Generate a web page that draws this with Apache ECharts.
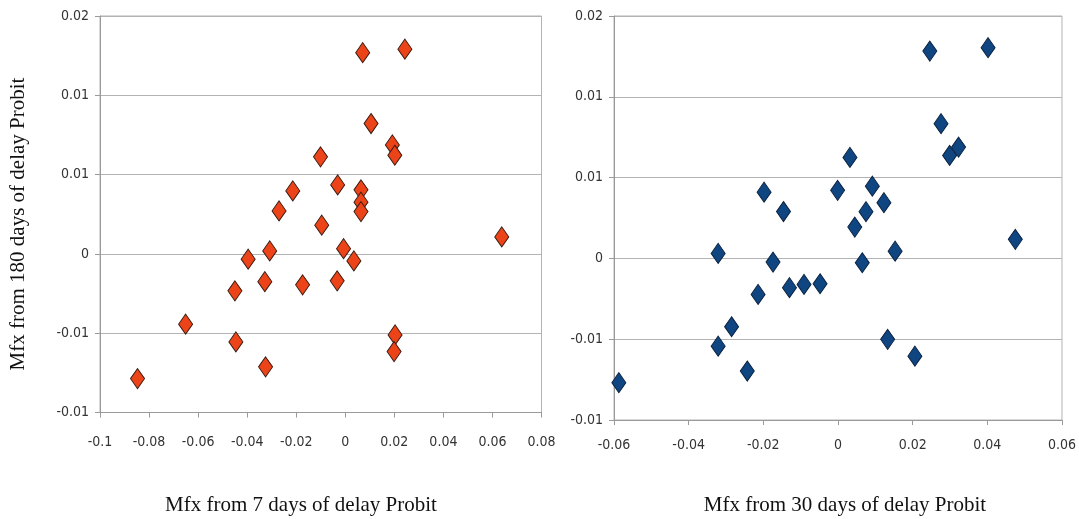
<!DOCTYPE html>
<html>
<head>
<meta charset="utf-8">
<script src="https://cdn.jsdelivr.net/npm/echarts@6/dist/echarts.min.js"></script>
<style>html,body{margin:0;padding:0;background:#fff}#c{width:1079px;height:519px}</style>
</head>
<body>
<div id="c"></div>
<script>
// Left panel: Mfx from 7 days (x) vs Mfx from 180 days (y)
var leftX = [0.0071,0.0243,0.0105,0.0192,0.0202,-0.0101,-0.0031,0.0064,-0.0214,0.0064,0.0064,-0.0270,-0.0096,0.0638,-0.0308,-0.0007,-0.0396,0.0035,-0.0328,-0.0174,-0.0033,-0.0450,-0.0651,0.0203,-0.0446,0.0199,-0.0325,-0.0847];
var leftY = [0.01269,0.01291,0.00822,0.00687,0.00622,0.00612,0.00435,0.00404,0.00397,0.00326,0.00267,0.00271,0.00181,0.00107,0.00019,0.00033,-0.00033,-0.00044,-0.00175,-0.00195,-0.00170,-0.00233,-0.00443,-0.00511,-0.00555,-0.00616,-0.00712,-0.00786];
// Right panel: Mfx from 30 days (x) vs Mfx from 180 days (y)
var rightX = [-0.0587,-0.0321,-0.0321,-0.0285,-0.0243,-0.0198,-0.0174,-0.0214,-0.0146,-0.0130,-0.0091,-0.0048,-0.0001,0.0032,0.0045,0.0065,0.0075,0.0092,0.0123,0.0133,0.0153,0.0206,0.0246,0.0276,0.0299,0.0323,0.0402,0.0475];
var rightY = [-0.00769,0.00031,-0.00543,-0.00423,-0.00697,0.00410,-0.00023,-0.00223,0.00290,-0.00181,-0.00161,-0.00157,0.00421,0.00625,0.00194,-0.00027,0.00289,0.00447,0.00345,-0.00501,0.00045,-0.00605,0.01283,0.00834,0.00637,0.00689,0.01304,0.00118];
// Y tick labels as printed (rounded to 2 decimals) for ticks -0.01 .. 0.015 step 0.005
var yTickLabels = ["-0.01","-0.01","0","0.01","0.01","0.02"];
var yMin = -0.01, yMax = 0.015, yStep = 0.005;
var leftXMin = -0.1, leftXMax = 0.08, xStep = 0.02;
var rightXMin = -0.06, rightXMax = 0.06;
var titles = {
  yName: "Mfx from 180 days of delay Probit",
  leftXName: "Mfx from 7 days of delay Probit",
  rightXName: "Mfx from 30 days of delay Probit"
};

function zip(a, b){ return a.map(function(v,i){ return [v, b[i]]; }); }

var tickFont = {color:'#333', fontSize:14, fontFamily:'"Liberation Sans Narrow","DejaVu Sans Condensed","Liberation Sans",sans-serif'};
var gridLine = {show:true, lineStyle:{color:'#b3b3b3', width:1}};
var axisLine = {show:true, onZero:false, lineStyle:{color:'#9a9a9a', width:1}};
var tick = {show:true, length:5, lineStyle:{color:'#9a9a9a'}};

function yAxis(idx){
  return {
    type:'value', gridIndex:idx, min:yMin, max:yMax, interval:yStep,
    axisLine:axisLine, axisTick:tick, splitLine:gridLine,
    axisLabel:Object.assign({margin:11, formatter:function(v){
      return yTickLabels[Math.round((v - yMin)/yStep)];
    }}, tickFont)
  };
}
function xAxis(idx, mn, mx, margin){
  return {
    type:'value', gridIndex:idx, min:mn, max:mx, interval:xStep,
    axisLine:axisLine, axisTick:tick, splitLine:{show:false},
    axisLabel:Object.assign({margin:margin, formatter:function(v){
      return (Math.round(v*100)/100).toString();
    }}, tickFont)
  };
}

var serif = '21px "Liberation Serif", "DejaVu Serif", serif';
var chart = echarts.init(document.getElementById('c'), null, {renderer:'canvas'});
chart.setOption({
  animation:false,
  backgroundColor:'#fff',
  grid:[
    {left:100, right:537.5, top:16, bottom:106.5, show:true, borderColor:'#b3b3b3', borderWidth:1},
    {left:614, right:16, top:16, bottom:99, show:true, borderColor:'#b3b3b3', borderWidth:1}
  ],
  xAxis:[xAxis(0, leftXMin, leftXMax, 23), xAxis(1, rightXMin, rightXMax, 18)],
  yAxis:[yAxis(0), yAxis(1)],
  series:[
    {type:'scatter', xAxisIndex:0, yAxisIndex:0, data:zip(leftX, leftY), symbol:'diamond', symbolSize:[14,20],
     itemStyle:{color:'#ec4418', opacity:1, borderColor:'#3a1a10', borderWidth:1}},
    {type:'scatter', xAxisIndex:1, yAxisIndex:1, data:zip(rightX, rightY), symbol:'diamond', symbolSize:[14,20],
     itemStyle:{color:'#0f4682', opacity:1, borderColor:'#0a2140', borderWidth:1}}
  ],
  graphic:[
    {type:'text', x:18, y:224, rotation:Math.PI/2,
     style:{text:titles.yName, fill:'#111', font:serif, textAlign:'center', textVerticalAlign:'middle'}},
    {type:'text', x:301, y:505,
     style:{text:titles.leftXName, fill:'#111', font:serif, textAlign:'center', textVerticalAlign:'middle'}},
    {type:'text', x:845, y:505,
     style:{text:titles.rightXName, fill:'#111', font:serif, textAlign:'center', textVerticalAlign:'middle'}}
  ]
});
</script>
</body>
</html>
